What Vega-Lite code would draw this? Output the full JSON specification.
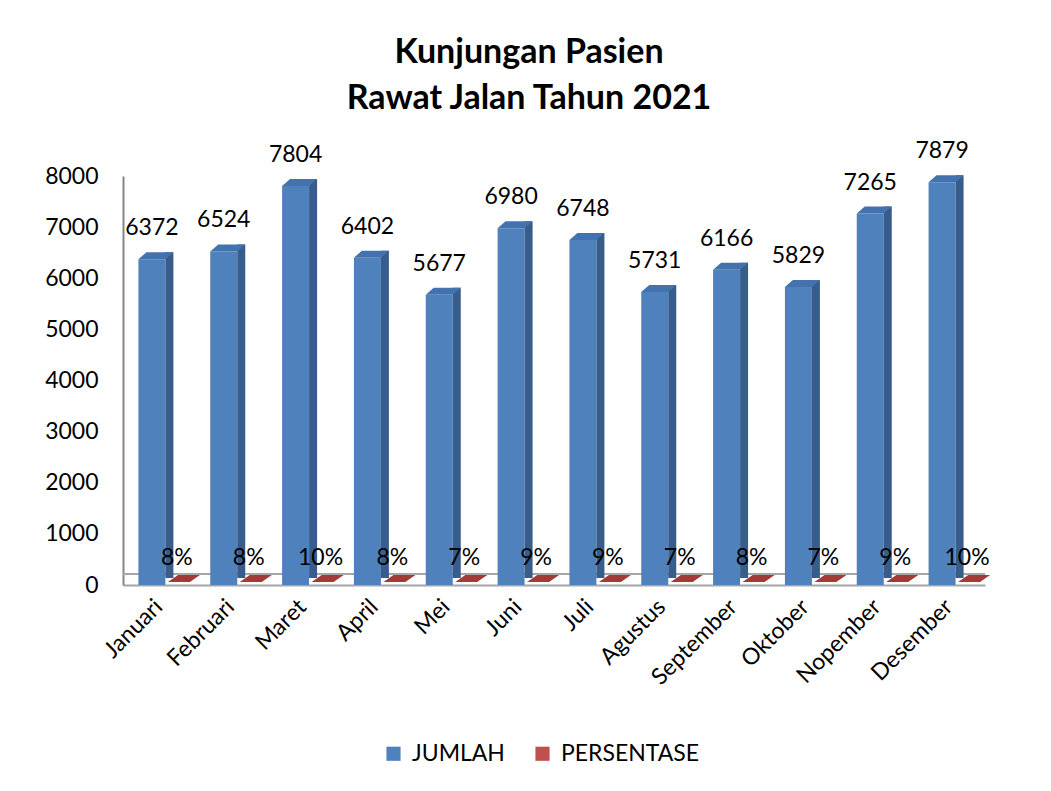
{
  "$schema": "https://vega.github.io/schema/vega-lite/v6.json",
  "autosize": "none",
  "width": 862,
  "height": 409,
  "padding": {"left": 123, "top": 176, "right": 66, "bottom": 206},
  "background": "white",
  "title": {
    "text": ["Kunjungan Pasien", "Rawat Jalan Tahun 2021"],
    "font": "Lato",
    "fontWeight": "bold",
    "fontSize": 34,
    "lineHeight": 46,
    "color": "black",
    "anchor": "middle",
    "dx": -25,
    "offset": 24
  },
  "config": {
    "view": {"stroke": null},
    "font": "Lato"
  },
  "data": {
    "values": [
      {"bulan": "Januari", "seri": "JUMLAH", "nilai": 6372},
      {"bulan": "Februari", "seri": "JUMLAH", "nilai": 6524},
      {"bulan": "Maret", "seri": "JUMLAH", "nilai": 7804},
      {"bulan": "April", "seri": "JUMLAH", "nilai": 6402},
      {"bulan": "Mei", "seri": "JUMLAH", "nilai": 5677},
      {"bulan": "Juni", "seri": "JUMLAH", "nilai": 6980},
      {"bulan": "Juli", "seri": "JUMLAH", "nilai": 6748},
      {"bulan": "Agustus", "seri": "JUMLAH", "nilai": 5731},
      {"bulan": "September", "seri": "JUMLAH", "nilai": 6166},
      {"bulan": "Oktober", "seri": "JUMLAH", "nilai": 5829},
      {"bulan": "Nopember", "seri": "JUMLAH", "nilai": 7265},
      {"bulan": "Desember", "seri": "JUMLAH", "nilai": 7879},
      {"bulan": "Januari", "seri": "PERSENTASE", "nilai": 0.0803},
      {"bulan": "Februari", "seri": "PERSENTASE", "nilai": 0.0822},
      {"bulan": "Maret", "seri": "PERSENTASE", "nilai": 0.0983},
      {"bulan": "April", "seri": "PERSENTASE", "nilai": 0.0807},
      {"bulan": "Mei", "seri": "PERSENTASE", "nilai": 0.0715},
      {"bulan": "Juni", "seri": "PERSENTASE", "nilai": 0.0879},
      {"bulan": "Juli", "seri": "PERSENTASE", "nilai": 0.0851},
      {"bulan": "Agustus", "seri": "PERSENTASE", "nilai": 0.0722},
      {"bulan": "September", "seri": "PERSENTASE", "nilai": 0.0777},
      {"bulan": "Oktober", "seri": "PERSENTASE", "nilai": 0.0734},
      {"bulan": "Nopember", "seri": "PERSENTASE", "nilai": 0.0915},
      {"bulan": "Desember", "seri": "PERSENTASE", "nilai": 0.0993}
    ]
  },
  "encoding": {
    "x": {
      "field": "bulan",
      "type": "nominal",
      "sort": null,
      "scale": {"paddingInner": 0, "paddingOuter": 0},
      "axis": {
        "title": null,
        "labelAngle": -45,
        "labelAlign": "right",
        "labelBaseline": "middle",
        "labelFontSize": 23,
        "labelColor": "black",
        "labelPadding": 18,
        "ticks": false,
        "domainColor": "#A6A6A6",
        "domainWidth": 2
      }
    },
    "y": {
      "field": "nilai",
      "type": "quantitative",
      "scale": {"domain": [0, 8000], "nice": false},
      "axis": {
        "title": null,
        "values": [0, 1000, 2000, 3000, 4000, 5000, 6000, 7000, 8000],
        "format": "d",
        "grid": false,
        "ticks": false,
        "labelFontSize": 23,
        "labelColor": "black",
        "labelPadding": 25,
        "domainColor": "#868686",
        "domainWidth": 2
      }
    }
  },
  "layer": [
    {
      "transform": [{"filter": "datum.bulan === 'Januari' && datum.seri === 'JUMLAH'"}],
      "mark": {"type": "rule", "color": "#A6A6A6", "strokeWidth": 2, "yOffset": -11},
      "encoding": {"x": null, "y": {"datum": 0}}
    },
    {
      "mark": {"type": "bar", "width": 27, "xOffset": -7},
      "encoding": {
        "color": {
          "field": "seri",
          "type": "nominal",
          "scale": {"domain": ["JUMLAH", "PERSENTASE"], "range": ["#4F81BD", "#C0504D"]},
          "legend": {
            "title": null,
            "orient": "none",
            "direction": "horizontal",
            "legendX": 259,
            "legendY": 566,
            "symbolType": "square",
            "symbolSize": 200,
            "symbolStrokeWidth": 0,
            "labelFontSize": 23,
            "labelColor": "black",
            "columnPadding": 26,
            "labelOffset": 7,
            "padding": 0
          }
        }
      }
    },
    {
      "transform": [{"filter": "datum.seri === 'JUMLAH'"}],
      "mark": {"type": "bar", "width": 8, "xOffset": 10.5, "yOffset": -7, "y2Offset": -3, "color": "#385D8A"}
    },
    {
      "transform": [{"filter": "datum.seri === 'JUMLAH'"}],
      "mark": {
        "type": "point",
        "filled": true,
        "opacity": 1,
        "strokeWidth": 0,
        "size": 1296,
        "xOffset": -7,
        "color": "#4373AE",
        "shape": "M-0.75,0L0.75,0L1.194,-0.389L-0.306,-0.389Z"
      }
    },
    {
      "transform": [{"filter": "datum.seri === 'PERSENTASE'"}],
      "mark": {
        "type": "point",
        "filled": true,
        "opacity": 1,
        "strokeWidth": 0,
        "size": 1296,
        "color": "#A33A38",
        "shape": "M0.5,-0.17L1.72,-0.17L2.28,-0.56L1.06,-0.56Z"
      }
    },
    {
      "transform": [{"filter": "datum.seri === 'JUMLAH'"}],
      "mark": {"type": "text", "fontSize": 23, "color": "black", "baseline": "alphabetic", "dy": -24, "xOffset": -7},
      "encoding": {"text": {"field": "nilai", "type": "quantitative", "format": "d"}}
    },
    {
      "transform": [{"filter": "datum.seri === 'PERSENTASE'"}],
      "mark": {"type": "text", "fontSize": 23, "color": "black", "baseline": "alphabetic", "dy": -20, "xOffset": 18},
      "encoding": {"text": {"field": "nilai", "type": "quantitative", "format": ".0%"}}
    }
  ]
}
